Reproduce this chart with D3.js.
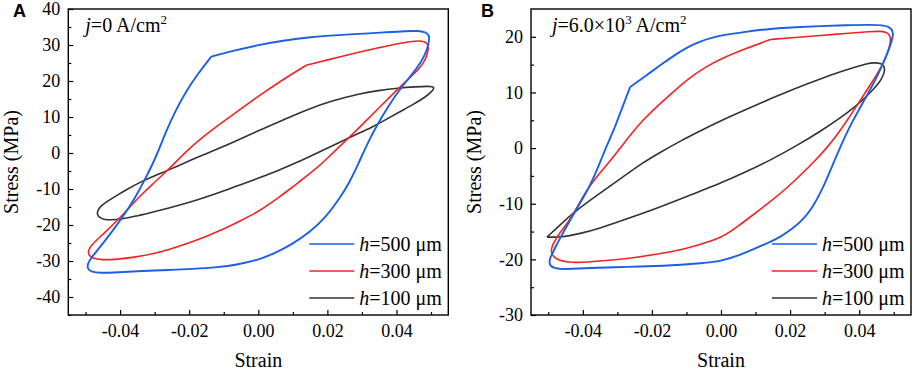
<!DOCTYPE html>
<html>
<head>
<meta charset="utf-8">
<script src="https://cdn.jsdelivr.net/npm/d3@7"></script>
<style>
  body { margin: 0; background: #fff; }
  svg { display: block; font-family: "Liberation Serif", "Times New Roman", serif; }
  .axis text { font-size: 18px; fill: #000; }
  .axis line { stroke: #000; stroke-width: 1.2; }
</style>
</head>
<body>
<svg id="chart" width="913" height="373"></svg>
<script>
// series labels + colours
const seriesNames = ['500', '300', '100'];
const seriesColors = ['#1a5fe6', '#f42323', '#333333'];

// [strain, stress], going round each loop.
// loops with a corner start (and end) on that corner
// panel A, j = 0 A/cm2
const loopA500 = [
  [-0.01364, 26.75], [-0.00705, 28.47], [0.0, 30.0], [0.00717, 31.25], [0.01443, 32.14],
  [0.02169, 32.69], [0.02894, 33.06], [0.03678, 33.53], [0.04259, 33.89], [0.04636, 33.94],
  [0.04839, 33.61], [0.04941, 32.78], [0.04955, 31.67], [0.04897, 28.89], [0.04723, 25.28],
  [0.04462, 21.94], [0.04143, 18.33], [0.03765, 13.06], [0.03417, 7.5], [0.03127, 1.94],
  [0.02894, -3.06], [0.02633, -8.33], [0.02343, -12.78], [0.01936, -18.06], [0.01501, -21.94],
  [0.00949, -25.56], [0.00485, -27.78], [0.0, -29.72], [-0.00589, -30.97], [-0.0117, -31.75],
  [-0.01896, -32.22], [-0.02621, -32.5], [-0.03347, -32.78], [-0.04073, -33.14], [-0.04595, -33.33],
  [-0.04828, -33.06], [-0.04944, -32.22], [-0.04944, -30.83], [-0.04848, -29.17], [-0.04479, -25.0],
  [-0.03986, -18.61], [-0.03579, -12.78], [-0.0326, -6.94], [-0.0297, -1.39], [-0.0268, 5.83],
  [-0.02389, 11.94], [-0.0207, 17.5], [-0.0175, 21.94], [-0.01364, 26.75]
];
const loopA300 = [
  [0.01405, 24.44], [0.02169, 26.25], [0.02894, 27.97], [0.03533, 29.31], [0.04055, 30.47],
  [0.04404, 30.97], [0.04636, 31.19], [0.0481, 30.97], [0.04912, 30.28], [0.04926, 29.17],
  [0.04883, 26.94], [0.04781, 25.0], [0.04636, 23.19], [0.04404, 21.11], [0.04114, 18.47],
  [0.03823, 15.69], [0.03475, 12.36], [0.03127, 9.03], [0.02807, 5.97], [0.02508, 3.19],
  [0.02169, 0.14], [0.01829, -3.06], [0.0153, -5.42], [0.01248, -7.5], [0.0092, -10.0],
  [0.00572, -12.5], [0.00282, -14.44], [0.0, -16.31], [-0.00589, -19.17], [-0.0117, -21.86],
  [-0.01896, -24.72], [-0.02621, -26.94], [-0.03144, -28.19], [-0.03588, -28.97], [-0.04073, -29.53],
  [-0.04558, -29.72], [-0.04799, -29.25], [-0.04915, -28.33], [-0.04924, -27.22], [-0.04857, -25.97],
  [-0.04712, -24.44], [-0.04392, -21.67], [-0.04073, -18.61], [-0.03725, -15.14], [-0.03397, -11.67],
  [-0.03057, -8.61], [-0.02717, -5.64], [-0.02447, -3.06], [-0.02099, 0.28], [-0.0175, 3.33],
  [-0.01364, 6.25], [-0.00685, 10.97], [0.0, 15.75], [0.00688, 20.28], [0.01405, 24.44]
];
const loopA100 = [
  [-0.04674, -16.94], [-0.04639, -15.69], [-0.04537, -14.58], [-0.04363, -13.33], [-0.04102, -11.81],
  [-0.03783, -10.0], [-0.03434, -8.19], [-0.03086, -6.67], [-0.02717, -5.19], [-0.02331, -3.61],
  [-0.01945, -1.94], [-0.01547, -0.28], [-0.0117, 1.11], [-0.00589, 3.61], [0.0, 6.19],
  [0.00717, 9.17], [0.01443, 12.22], [0.02169, 14.58], [0.02894, 16.39], [0.03475, 17.36],
  [0.04055, 18.06], [0.04549, 18.39], [0.04926, 18.53], [0.05043, 18.47], [0.051, 18.06],
  [0.05013, 16.94], [0.04839, 15.56], [0.04462, 13.33], [0.04055, 11.25], [0.03678, 9.17],
  [0.03301, 7.22], [0.02894, 5.42], [0.02459, 3.47], [0.01791, 0.42], [0.01057, -2.92],
  [0.00514, -5.14], [0.0, -7.03], [-0.00589, -9.03], [-0.0117, -11.19], [-0.01896, -13.47],
  [-0.02621, -15.36], [-0.03144, -16.61], [-0.03588, -17.64], [-0.03957, -18.33], [-0.04267, -18.61],
  [-0.04479, -18.47], [-0.04604, -17.86]
];
// panel B, j = 6.0x10^3 A/cm2
const loopB500 = [
  [-0.0263, 10.97], [-0.02195, 12.91], [-0.0176, 14.89], [-0.01325, 16.78], [-0.00948, 18.22],
  [-0.006, 19.21], [-0.00252, 19.84], [0.0, 20.25], [0.00705, 20.92], [0.0143, 21.46],
  [0.02155, 21.73], [0.0288, 21.94], [0.03605, 22.09], [0.0433, 22.18], [0.04678, 22.09],
  [0.04852, 21.82], [0.04953, 21.28], [0.04988, 20.56], [0.04953, 19.48], [0.04881, 18.04],
  [0.04736, 15.88], [0.04547, 13.18], [0.04301, 10.31], [0.0404, 7.43], [0.03808, 4.82],
  [0.03634, 2.66], [0.03445, 0.05], [0.03257, -2.64], [0.03068, -5.52], [0.0288, -8.04],
  [0.02648, -10.65], [0.02387, -12.81], [0.02068, -14.51], [0.0172, -15.95], [0.0143, -16.85],
  [0.00995, -18.02], [0.0056, -19.19], [0.0, -20.36], [-0.006, -20.72], [-0.0118, -20.99],
  [-0.01636, -21.17], [-0.0234, -21.29], [-0.03086, -21.4], [-0.0379, -21.56], [-0.04341, -21.71],
  [-0.0466, -21.74], [-0.04826, -21.58], [-0.04936, -21.17], [-0.04971, -20.63], [-0.0495, -19.73],
  [-0.04872, -18.88], [-0.04776, -17.57], [-0.04631, -15.9], [-0.04443, -13.79], [-0.04246, -11.69],
  [-0.04051, -9.57], [-0.03857, -7.5], [-0.0366, -4.98], [-0.03471, -2.1], [-0.03297, 0.59],
  [-0.03086, 3.47], [-0.02862, 7.25], [-0.0263, 10.97]
];
const loopB300 = [
  [0.0143, 19.53], [0.02155, 19.89], [0.0288, 20.25], [0.03605, 20.61], [0.0433, 20.97],
  [0.0462, 21.01], [0.04765, 20.86], [0.04866, 20.47], [0.0491, 19.84], [0.04895, 18.76],
  [0.04837, 17.32], [0.04721, 15.52], [0.04562, 13.72], [0.04359, 11.74], [0.04127, 9.5],
  [0.03895, 7.25], [0.03634, 4.82], [0.03364, 2.39], [0.03054, -0.04], [0.0272, -2.28],
  [0.02329, -4.71], [0.01914, -7.14], [0.01459, -9.48], [0.00945, -11.91], [0.00473, -14.15],
  [0.0, -16.19], [-0.006, -17.3], [-0.01151, -18.29], [-0.01876, -19.1], [-0.02601, -19.78],
  [-0.03326, -20.23], [-0.04051, -20.58], [-0.04428, -20.54], [-0.04727, -20.09], [-0.04863, -19.46],
  [-0.04921, -18.6], [-0.04892, -17.66], [-0.04826, -16.8], [-0.0466, -15.14], [-0.04437, -13.49],
  [-0.0424, -11.46], [-0.04051, -9.3], [-0.03863, -7.41], [-0.03666, -5.7], [-0.03428, -3.9],
  [-0.03181, -2.1], [-0.0292, -0.04], [-0.02601, 2.57], [-0.02224, 5.27], [-0.01827, 7.66],
  [-0.01412, 9.95], [-0.00957, 12.46], [-0.00484, 14.44], [0.0, 16.06], [0.00705, 17.86],
  [0.0143, 19.53]
];
const loopB100 = [
  [-0.05037, -16.01], [-0.0466, -13.79], [-0.04254, -11.55], [-0.0379, -9.39], [-0.03326, -7.32],
  [-0.02862, -5.31], [-0.02311, -2.82], [-0.0176, -0.76], [-0.01151, 1.37], [-0.006, 3.11],
  [0.0, 4.96], [0.00705, 6.89], [0.0143, 8.87], [0.02155, 10.76], [0.0288, 12.46],
  [0.0346, 13.72], [0.03924, 14.62], [0.04214, 15.16], [0.04446, 15.38], [0.0462, 15.25],
  [0.04721, 14.8], [0.04744, 13.96], [0.04692, 13.0], [0.04591, 11.83], [0.04388, 10.4],
  [0.04156, 8.96], [0.03845, 7.25], [0.0346, 5.45], [0.0288, 3.02], [0.02184, 0.41],
  [0.01479, -2.01], [0.00734, -4.26], [0.0, -6.29], [-0.00832, -8.31], [-0.01636, -10.29],
  [-0.0234, -11.91], [-0.03086, -13.49], [-0.03616, -14.6], [-0.04051, -15.32], [-0.04428, -15.83],
  [-0.04747, -16.01], [-0.05037, -16.01]
];

// axis ticks
const strainTicks = [-0.04, -0.02, 0.00, 0.02, 0.04];
const strainMinor = [-0.05, -0.03, -0.01, 0.01, 0.03, 0.05];
const stressTicksA = [-40, -30, -20, -10, 0, 10, 20, 30, 40];
const stressTicksB = [-30, -20, -10, 0, 10, 20];

const serif = '"Liberation Serif", "Times New Roman", serif';
const svg = d3.select('#chart');

function drawPanel(cfg) {
  const { left, top, width, height } = cfg;
  const g = svg.append('g').attr('transform', `translate(${left},${top})`);

  const x = d3.scaleLinear().domain([-0.055, 0.055]).range([0, width]);
  const y = d3.scaleLinear().domain(cfg.yDomain).range([height, 0]);

  // d3.axis puts font-family="sans-serif" on its group, so reset it
  const tidy = a => {
    a.attr('font-family', serif).attr('font-size', 18);
    a.select('.domain').remove();
  };

  // minor ticks
  g.append('g').attr('class', 'axis')
    .attr('transform', `translate(0,${height})`)
    .call(d3.axisBottom(x).tickValues(strainMinor).tickSize(-3).tickFormat(''))
    .call(tidy);
  g.append('g').attr('class', 'axis')
    .call(d3.axisLeft(y).tickValues(cfg.yMinor).tickSize(-3).tickFormat(''))
    .call(tidy);

  // major ticks
  g.append('g').attr('class', 'axis')
    .attr('transform', `translate(0,${height})`)
    .call(d3.axisBottom(x).tickValues(strainTicks).tickSize(-5).tickPadding(9)
      .tickFormat(d3.format('.2f')))
    .call(tidy);
  g.append('g').attr('class', 'axis')
    .call(d3.axisLeft(y).tickValues(cfg.yTicks).tickSize(-5).tickPadding(8)
      .tickFormat(d3.format('d')))
    .call(tidy);
  g.selectAll('.axis text').text(function () { return this.textContent.replace('−', '-'); });

  // curves: open B-spline keeps the corner where a loop starts/ends
  const line = d3.line()
    .x(d => x(d[0]))
    .y(d => y(d[1]));

  const curvesG = g.append('g');
  cfg.loops.map((pts, i) => ({ pts, i })).reverse().forEach(({ pts, i }) => {
    const closed = cfg.closed[i];
    curvesG.append('path')
      .attr('d', line.curve(closed ? d3.curveBasisClosed : d3.curveBasis)(pts))
      .attr('fill', 'none')
      .attr('stroke', seriesColors[i])
      .attr('stroke-width', i === 0 ? 1.9 : 1.6)
      .attr('stroke-linejoin', 'round');
  });

  // frame
  g.append('rect')
    .attr('width', width).attr('height', height)
    .attr('fill', 'none').attr('stroke', '#000').attr('stroke-width', 1.4);

  // legend
  const lg = g.append('g').attr('transform', `translate(${width - 139},${235})`);
  seriesNames.forEach((name, i) => {
    const row = lg.append('g').attr('transform', `translate(0,${i * 27})`);
    row.append('line')
      .attr('x1', 0).attr('x2', 45)
      .attr('stroke', seriesColors[i]).attr('stroke-width', 1.6);
    const t = row.append('text')
      .attr('x', 50).attr('y', 7)
      .attr('font-size', 20);
    t.append('tspan').attr('font-style', 'italic').text('h');
    t.append('tspan').text(`=${name} μm`);
  });

  // current density note
  const note = g.append('text')
    .attr('x', cfg.noteX).attr('y', 23)
    .attr('font-size', 20);
  note.append('tspan').attr('font-style', 'italic').text('j');
  cfg.note.forEach(part => {
    const sp = note.append('tspan').text(part.t);
    if (part.sup) sp.attr('font-size', 13).attr('dy', -8);
    if (part.after) sp.attr('dy', 8);
  });

  // axis titles
  g.append('text')
    .attr('x', width / 2).attr('y', height + 52)
    .attr('text-anchor', 'middle')
    .attr('font-size', 20)
    .text('Strain');
  g.append('text')
    .attr('transform', `translate(-50,${height / 2}) rotate(-90)`)
    .attr('text-anchor', 'middle')
    .attr('font-size', 20)
    .text('Stress (MPa)');

  // panel letter
  svg.append('text')
    .attr('x', cfg.letterX).attr('y', 17)
    .attr('font-family', '"Liberation Sans", Arial, sans-serif')
    .attr('font-weight', 'bold')
    .attr('font-size', 18)
    .text(cfg.letter);
}

drawPanel({
  left: 68.3, top: 9, width: 380, height: 306,
  yDomain: [-45, 40],
  yTicks: stressTicksA,
  yMinor: d3.range(-45, 40, 10),
  loops: [loopA500, loopA300, loopA100],
  closed: [false, false, true],
  noteX: 17,
  note: [{ t: '=0 A/cm' }, { t: '2', sup: true }],
  letter: 'A', letterX: 13
});

drawPanel({
  left: 531, top: 9, width: 380, height: 306,
  yDomain: [-30, 25],
  yTicks: stressTicksB,
  yMinor: d3.range(-25, 25, 10),
  loops: [loopB500, loopB300, loopB100],
  closed: [false, false, false],
  noteX: 21,
  note: [{ t: '=6.0×10' }, { t: '3', sup: true }, { t: ' A/cm', after: true }, { t: '2', sup: true }],
  letter: 'B', letterX: 481
});
</script>
</body>
</html>
